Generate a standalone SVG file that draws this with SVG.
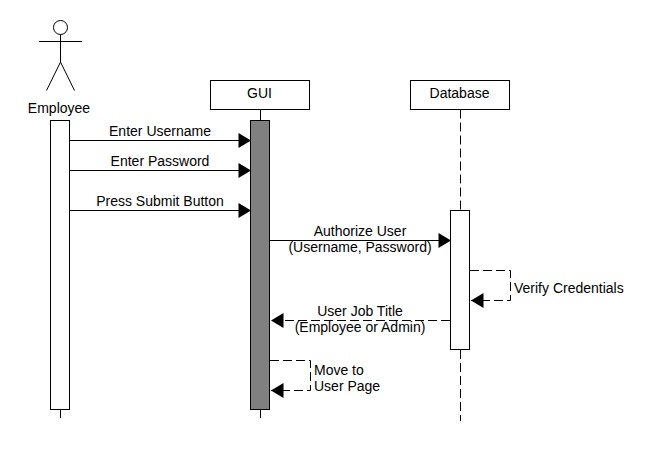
<svg xmlns="http://www.w3.org/2000/svg" width="660" height="460" viewBox="0 0 660 460">
<style>
text{font-family:"Liberation Sans",Arial,sans-serif;font-size:14px;fill:#000;text-anchor:middle}
.s{fill:none;stroke:#000;stroke-width:1}
.b{fill:#fff;stroke:#000;stroke-width:1}
.d{stroke-dasharray:9 4}
.l{text-anchor:start}
</style>
<defs>
<marker id="a" markerUnits="userSpaceOnUse" markerWidth="15" markerHeight="18" refX="13.500" refY="9" orient="auto"><path d="M1 1.500L13.500 9L1 16.500Z" fill="#000"/></marker>
</defs>
<rect width="660" height="460" fill="#fff"/>
<g id="lifelines">
<path class="s" d="M60.500 409.500V418"/>
<path class="s" d="M260.500 109.500V120M260.500 409.500V418"/>
<path class="s d" d="M460.500 109.500V210"/>
<path class="s d" d="M460.500 350V421"/>
</g>
<g id="employee">
<circle class="s" cx="60.500" cy="27.500" r="7"/>
<path class="s" d="M60.500 34.500V62M39 41.500H82M60.500 62L46.500 90.500M60.500 62L74.500 90.500"/>
<text x="59" y="113">Employee</text>
<rect class="b" x="50.500" y="120.500" width="19" height="289"/>
</g>
<g id="gui">
<rect class="b" x="210.500" y="80.500" width="99" height="29"/>
<text x="259.500" y="98">GUI</text>
<rect x="250.500" y="120.500" width="19" height="289" fill="#808080" stroke="#000"/>
</g>
<g id="database">
<rect class="b" x="410.500" y="80.500" width="99" height="29"/>
<text x="459.500" y="98">Database</text>
<rect class="b" x="450.500" y="210.500" width="19" height="139"/>
</g>
<g id="connectors">
<path class="s" d="M70 140.500H251" marker-end="url(#a)"/>
<path class="s" d="M70 170.500H251" marker-end="url(#a)"/>
<path class="s" d="M70 210.500H251" marker-end="url(#a)"/>
<path class="s" d="M270 240.500H451" marker-end="url(#a)"/>
<path class="s d" d="M470 270.500H510.500V300.500H471" marker-end="url(#a)"/>
<path class="s d" d="M450 320.500H271" marker-end="url(#a)"/>
<path class="s d" d="M270 360.500H310.500V390.500H271" marker-end="url(#a)"/>
</g>
<g id="labels">
<text x="160" y="136">Enter Username</text>
<text x="160" y="166">Enter Password</text>
<text x="160" y="206">Press Submit Button</text>
<text x="360" y="236">Authorize User</text>
<text x="360" y="252">(Username, Password)</text>
<text class="l" x="514" y="293">Verify Credentials</text>
<text x="360" y="316">User Job Title</text>
<text x="360" y="332">(Employee or Admin)</text>
<text class="l" x="314" y="375">Move to</text>
<text class="l" x="314" y="391">User Page</text>
</g>
</svg>
